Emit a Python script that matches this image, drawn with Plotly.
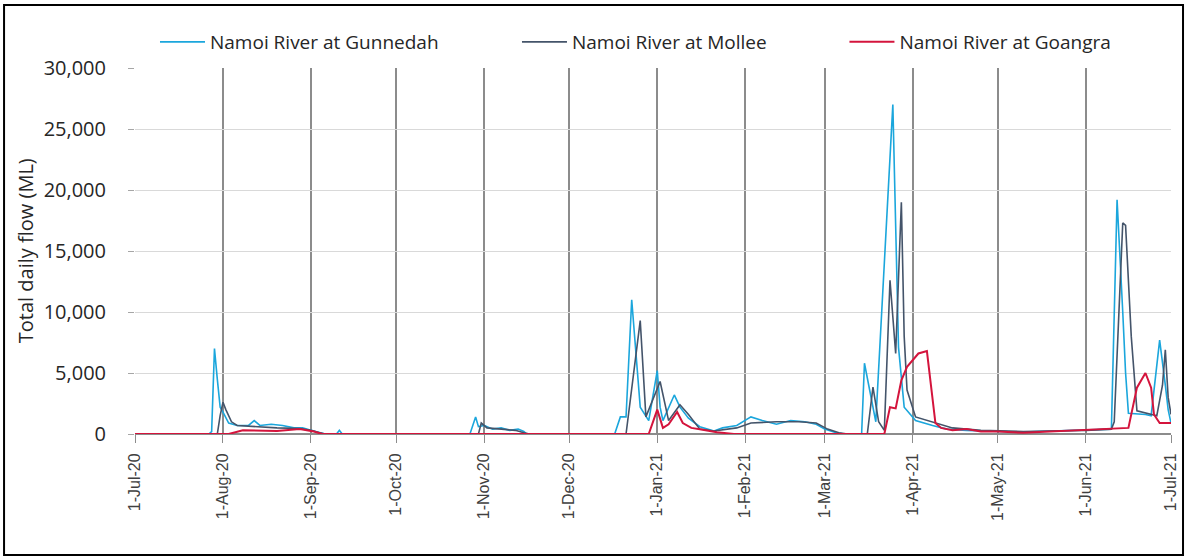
import plotly.graph_objects as go

# Namoi River daily flows (ML)
gunnedah_dates = [
    "2020-07-01", "2020-07-27", "2020-07-28", "2020-07-29", "2020-07-30", "2020-07-31",
    "2020-08-01", "2020-08-03", "2020-08-06", "2020-08-10", "2020-08-12", "2020-08-14",
    "2020-08-18", "2020-08-22", "2020-08-26", "2020-08-29", "2020-09-01", "2020-09-04",
    "2020-09-06", "2020-09-10", "2020-09-11", "2020-09-12", "2020-10-27", "2020-10-29",
    "2020-10-30", "2020-11-01", "2020-11-04", "2020-11-07", "2020-11-10", "2020-11-13",
    "2020-11-15", "2020-11-16", "2020-12-17", "2020-12-19", "2020-12-21", "2020-12-23",
    "2020-12-26", "2020-12-29", "2021-01-01", "2021-01-02", "2021-01-03", "2021-01-07",
    "2021-01-09", "2021-01-12", "2021-01-16", "2021-01-21", "2021-01-24", "2021-01-29",
    "2021-02-03", "2021-02-07", "2021-02-12", "2021-02-17", "2021-02-22", "2021-02-26",
    "2021-03-01", "2021-03-05", "2021-03-08", "2021-03-14", "2021-03-15", "2021-03-17",
    "2021-03-19", "2021-03-25", "2021-03-27", "2021-03-29", "2021-04-02", "2021-04-08",
    "2021-04-13", "2021-04-20", "2021-05-01", "2021-05-10", "2021-05-20", "2021-05-28",
    "2021-06-05", "2021-06-10", "2021-06-12", "2021-06-13", "2021-06-14", "2021-06-15",
    "2021-06-16", "2021-06-22", "2021-06-24", "2021-06-27", "2021-06-28", "2021-06-29",
    "2021-06-30", "2021-07-01",
]
gunnedah_flow = [
    0, 0, 200, 7000, 4500, 2200,
    1800, 900, 700, 700, 1100, 700,
    800, 700, 500, 500, 300, 150,
    0, 0, 300, 0, 0, 1400,
    600, 700, 400, 500, 300, 400,
    200, 0, 0, 1400, 1400, 11000,
    2200, 1100, 5200, 2200, 1100, 3200,
    2200, 1300, 600, 250, 500, 700,
    1400, 1100, 800, 1100, 1000, 800,
    400, 100, 0, 0, 5800, 3400,
    1000, 27000, 7100, 2200, 1100, 700,
    400, 300, 200, 150, 250, 300,
    400, 400, 19200, 15000, 10000, 5000,
    1700, 1600, 1500, 7700, 6000, 4000,
    2000, 900,
]

mollee_dates = [
    "2020-07-01", "2020-07-30", "2020-07-31", "2020-08-01", "2020-08-02", "2020-08-04",
    "2020-08-06", "2020-08-12", "2020-08-20", "2020-08-28", "2020-09-01", "2020-09-04",
    "2020-09-06", "2020-10-30", "2020-10-31", "2020-11-02", "2020-11-06", "2020-11-12",
    "2020-11-15", "2020-11-17", "2020-12-21", "2020-12-26", "2020-12-28", "2021-01-02",
    "2021-01-05", "2021-01-09", "2021-01-12", "2021-01-16", "2021-01-21", "2021-01-29",
    "2021-02-03", "2021-02-12", "2021-02-20", "2021-02-26", "2021-03-02", "2021-03-06",
    "2021-03-09", "2021-03-16", "2021-03-18", "2021-03-20", "2021-03-22", "2021-03-24",
    "2021-03-26", "2021-03-28", "2021-03-29", "2021-03-30", "2021-04-02", "2021-04-08",
    "2021-04-15", "2021-04-25", "2021-05-10", "2021-06-01", "2021-06-10", "2021-06-11",
    "2021-06-14", "2021-06-15", "2021-06-17", "2021-06-19", "2021-06-25", "2021-06-26",
    "2021-06-28", "2021-06-29", "2021-06-30", "2021-07-01",
]
mollee_flow = [
    0, 0, 1500, 2600, 2000, 1000,
    700, 600, 500, 450, 300, 100,
    0, 0, 900, 500, 400, 300,
    100, 0, 0, 9300, 1400, 4300,
    1100, 2400, 1600, 400, 250, 500,
    900, 1000, 1000, 900, 400, 100,
    0, 0, 3850, 1000, 300, 12600,
    6600, 19000, 8000, 3600, 1400, 1000,
    500, 300, 200, 300, 400, 1000,
    17300, 17100, 8000, 1900, 1600, 1500,
    4000, 6900, 3000, 1600,
]

goangra_dates = [
    "2020-07-01", "2020-08-03", "2020-08-08", "2020-08-20", "2020-08-28", "2020-09-02",
    "2020-09-05", "2020-12-29", "2021-01-01", "2021-01-03", "2021-01-05", "2021-01-08",
    "2021-01-10", "2021-01-13", "2021-01-17", "2021-01-22", "2021-01-28", "2021-03-22",
    "2021-03-24", "2021-03-26", "2021-03-28", "2021-03-30", "2021-04-03", "2021-04-06",
    "2021-04-09", "2021-04-11", "2021-04-15", "2021-04-20", "2021-04-25", "2021-05-01",
    "2021-05-10", "2021-05-20", "2021-06-01", "2021-06-10", "2021-06-16", "2021-06-19",
    "2021-06-22", "2021-06-24", "2021-06-25", "2021-06-27", "2021-07-01",
]
goangra_flow = [
    0, 0, 300, 250, 400, 200,
    0, 0, 2000, 500, 800, 1800,
    900, 500, 350, 150, 0, 0,
    2200, 2100, 4400, 5500, 6600, 6800,
    900, 500, 300, 400, 200, 200,
    100, 200, 300, 400, 500, 3800,
    5000, 3800, 1600, 900, 900,
]

month_ticks = [
    "2020-07-01", "2020-08-01", "2020-09-01", "2020-10-01", "2020-11-01", "2020-12-01",
    "2021-01-01", "2021-02-01", "2021-03-01", "2021-04-01", "2021-05-01", "2021-06-01",
    "2021-07-01",
]
month_labels = [
    "1-Jul-20", "1-Aug-20", "1-Sep-20", "1-Oct-20", "1-Nov-20", "1-Dec-20",
    "1-Jan-21", "1-Feb-21", "1-Mar-21", "1-Apr-21", "1-May-21", "1-Jun-21",
    "1-Jul-21",
]

fig = go.Figure()

fig.add_trace(go.Scatter(
    x=gunnedah_dates, y=gunnedah_flow, mode="lines",
    name="Namoi River at Gunnedah", legend="legend",
    line=dict(color="#1ba6dc", width=1.6),
))
fig.add_trace(go.Scatter(
    x=mollee_dates, y=mollee_flow, mode="lines",
    name="Namoi River at Mollee", legend="legend2",
    line=dict(color="#44546a", width=1.6),
))
fig.add_trace(go.Scatter(
    x=goangra_dates, y=goangra_flow, mode="lines",
    name="Namoi River at Goangra", legend="legend3",
    line=dict(color="#d4143c", width=2),
))

# black frame round the whole chart
fig.add_shape(
    type="rect", xref="paper", yref="paper",
    x0=-0.1264, x1=1.0116, y0=-0.3306, y1=1.172,
    line=dict(color="black", width=2), fillcolor="rgba(0,0,0,0)",
)

fig.add_annotation(
    text="Total daily flow (ML)", textangle=-90,
    xref="paper", yref="paper", x=-0.106, y=0.5,
    xanchor="center", yanchor="middle", showarrow=False,
    font=dict(size=20, color="#262626"),
)

legend_style = dict(
    orientation="h", yanchor="middle", xanchor="left", y=1.071,
    font=dict(size=19, color="#262626"), itemwidth=45,
    bgcolor="rgba(0,0,0,0)",
)

fig.update_layout(
    width=1187, height=559,
    margin=dict(l=135, r=16, t=68, b=125, autoexpand=False),
    paper_bgcolor="white", plot_bgcolor="white",
    font=dict(family="Open Sans", color="#404040"),
    showlegend=True,
    legend=dict(legend_style, x=0.0193),
    legend2=dict(legend_style, x=0.3687),
    legend3=dict(legend_style, x=0.6848),
    xaxis=dict(
        range=["2020-07-01", "2021-07-01"], automargin=False,
        tickmode="array", tickvals=month_ticks, ticktext=month_labels,
        tickangle=-90, tickfont=dict(family="Liberation Sans", size=16, color="#404040"),
        ticklabelstandoff=4,
        showgrid=True, gridcolor="#8c8c8c", gridwidth=1.5,
        ticks="outside", ticklen=8, tickcolor="#8c8c8c",
        showline=False, zeroline=False,
    ),
    yaxis=dict(
        range=[0, 30000], automargin=False,
        tickvals=[0, 5000, 10000, 15000, 20000, 25000, 30000],
        tickformat=",", tickfont=dict(size=20, color="#262626"),
        ticklabelstandoff=18,
        showgrid=True, gridcolor="#d9d9d9", gridwidth=1,
        ticks="outside", ticklen=6, tickcolor="#a6a6a6",
        zeroline=True, zerolinecolor="#8c8c8c", zerolinewidth=1.5,
        showline=False,
    ),
)

fig.write_html(
    "out.html",
    config={"displayModeBar": False},
    post_script="document.body.style.margin='0px';",
)
